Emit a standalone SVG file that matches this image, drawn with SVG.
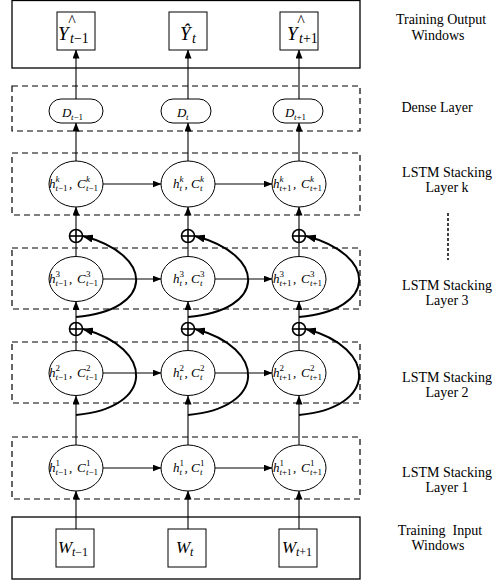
<svg xmlns="http://www.w3.org/2000/svg" width="493" height="583" viewBox="0 0 493 583">
<style>
  text { font-family: "Liberation Serif", "Times New Roman", serif; fill: #000; }
  .lbl { font-size: 14px; text-anchor: middle; white-space: pre; }
  .m { font-size: 13px; font-style: italic; }
  .s { font-size: 9px; font-style: normal; }
  .i { font-style: italic; }
  .Y { font-size: 19px; font-style: italic; }
  .Ys { font-size: 14px; }
  .hat { font-size: 16px; text-anchor: middle; }
  .W { font-size: 17px; font-style: italic; }
  .Ws { font-size: 12px; }
  .D { font-size: 13px; font-style: italic; }
  .Ds { font-size: 9px; }
  .solid { fill: none; stroke: #000; stroke-width: 1.3; }
  .dash { fill: none; stroke: #000; stroke-width: 1.2; stroke-dasharray: 6 4; }
  .node { fill: #fff; stroke: #000; stroke-width: 1; }
  .ln { fill: none; stroke: #000; stroke-width: 1.1; }
  .arr { fill: none; stroke: #000; stroke-width: 1.1; marker-end: url(#ah); }
  .curve { fill: none; stroke: #000; stroke-width: 2; marker-end: url(#ahb); }
  .op { fill: #fff; stroke: #000; stroke-width: 1.6; }
  .opx { stroke: #000; stroke-width: 1.6; }
</style>
<defs>
  <marker id="ah" markerUnits="userSpaceOnUse" markerWidth="9" markerHeight="7" refX="8.5" refY="3.5" orient="auto">
    <path d="M0,0 L9,3.5 L0,7 z" fill="#000"/>
  </marker>
  <marker id="ahb" markerUnits="userSpaceOnUse" markerWidth="11" markerHeight="8" refX="10" refY="4" orient="auto">
    <path d="M0,0 L11,4 L0,8 z" fill="#000"/>
  </marker>
</defs>

<!-- layer frames -->
<g id="frames">
  <rect class="solid" x="12" y="0.5" width="348" height="67.5"/>
  <rect class="dash" x="12" y="86" width="348" height="45"/>
  <rect class="dash" x="12" y="153" width="348" height="62"/>
  <rect class="dash" x="12" y="248" width="348" height="61"/>
  <rect class="dash" x="12" y="342" width="348" height="61"/>
  <rect class="dash" x="12" y="437" width="348" height="62"/>
  <rect class="solid" x="12" y="517" width="348" height="62"/>
  <line x1="448" y1="213" x2="448" y2="260" stroke="#000" stroke-width="1.5" stroke-dasharray="3 2"/>
</g>

<!-- connectors -->
<g id="connectors">
  <line class="arr" x1="76" y1="529" x2="76" y2="491"/>
  <line class="arr" x1="188" y1="529" x2="188" y2="491"/>
  <line class="arr" x1="299" y1="529" x2="299" y2="491"/>
  <line class="arr" x1="76" y1="445" x2="76" y2="396"/>
  <line class="arr" x1="188" y1="445" x2="188" y2="396"/>
  <line class="arr" x1="299" y1="445" x2="299" y2="396"/>
  <line class="ln" x1="76" y1="350" x2="76" y2="335"/>
  <line class="ln" x1="188" y1="350" x2="188" y2="335"/>
  <line class="ln" x1="299" y1="350" x2="299" y2="335"/>
  <line class="arr" x1="76" y1="322" x2="76" y2="301.5"/>
  <line class="arr" x1="188" y1="322" x2="188" y2="301.5"/>
  <line class="arr" x1="299" y1="322" x2="299" y2="301.5"/>
  <line class="ln" x1="76" y1="256.5" x2="76" y2="242"/>
  <line class="ln" x1="188" y1="256.5" x2="188" y2="242"/>
  <line class="ln" x1="299" y1="256.5" x2="299" y2="242"/>
  <line class="arr" x1="76" y1="229.5" x2="76" y2="207"/>
  <line class="arr" x1="188" y1="229.5" x2="188" y2="207"/>
  <line class="arr" x1="299" y1="229.5" x2="299" y2="207"/>
  <line class="arr" x1="76" y1="161" x2="76" y2="123"/>
  <line class="arr" x1="188" y1="161" x2="188" y2="123"/>
  <line class="arr" x1="299" y1="161" x2="299" y2="123"/>
  <line class="arr" x1="76" y1="99" x2="76" y2="50"/>
  <line class="arr" x1="188" y1="99" x2="188" y2="50"/>
  <line class="arr" x1="299" y1="99" x2="299" y2="50"/>
  <line class="arr" x1="103" y1="184" x2="161" y2="184"/>
  <line class="arr" x1="215" y1="184" x2="272" y2="184"/>
  <line class="arr" x1="103" y1="279" x2="161" y2="279"/>
  <line class="arr" x1="215" y1="279" x2="272" y2="279"/>
  <line class="arr" x1="103" y1="373" x2="161" y2="373"/>
  <line class="arr" x1="215" y1="373" x2="272" y2="373"/>
  <line class="arr" x1="103" y1="468" x2="161" y2="468"/>
  <line class="arr" x1="215" y1="468" x2="272" y2="468"/>
  <path class="curve" d="M76,415 C155,408 155,348 83,329"/>
  <path class="curve" d="M188,415 C267,408 267,348 195,329"/>
  <path class="curve" d="M299,415 C378,408 378,348 306,329"/>
  <path class="curve" d="M76,317 C155,310 155,255 83,236"/>
  <path class="curve" d="M188,317 C267,310 267,255 195,236"/>
  <path class="curve" d="M299,317 C378,310 378,255 306,236"/>
</g>

<!-- oplus nodes -->
<g id="add_k_1"><circle class="op" cx="76" cy="236" r="6.5"/><line class="opx" x1="69.5" y1="236" x2="82.5" y2="236"/><line class="opx" x1="76" y1="229.5" x2="76" y2="242.5"/></g>
<g id="add_k_2"><circle class="op" cx="188" cy="236" r="6.5"/><line class="opx" x1="181.5" y1="236" x2="194.5" y2="236"/><line class="opx" x1="188" y1="229.5" x2="188" y2="242.5"/></g>
<g id="add_k_3"><circle class="op" cx="299" cy="236" r="6.5"/><line class="opx" x1="292.5" y1="236" x2="305.5" y2="236"/><line class="opx" x1="299" y1="229.5" x2="299" y2="242.5"/></g>
<g id="add_3_1"><circle class="op" cx="76" cy="329" r="6.5"/><line class="opx" x1="69.5" y1="329" x2="82.5" y2="329"/><line class="opx" x1="76" y1="322.5" x2="76" y2="335.5"/></g>
<g id="add_3_2"><circle class="op" cx="188" cy="329" r="6.5"/><line class="opx" x1="181.5" y1="329" x2="194.5" y2="329"/><line class="opx" x1="188" y1="322.5" x2="188" y2="335.5"/></g>
<g id="add_3_3"><circle class="op" cx="299" cy="329" r="6.5"/><line class="opx" x1="292.5" y1="329" x2="305.5" y2="329"/><line class="opx" x1="299" y1="322.5" x2="299" y2="335.5"/></g>

<!-- output windows -->
<g id="Y_tm1">
  <rect class="node" x="57" y="12" width="38" height="38"/>
  <text class="Y" x="58" y="40">Y</text>
  <text class="hat" x="72" y="26">^</text>
  <text class="Ys" x="70" y="43"><tspan class="i">t</tspan>−1</text>
</g>
<g id="Y_t">
  <rect class="node" x="169" y="12" width="38" height="38"/>
  <text class="Y" x="180" y="40">Ŷ</text>
  <text class="Ys i" x="192" y="43">t</text>
</g>
<g id="Y_tp1">
  <rect class="node" x="280" y="12" width="38" height="38"/>
  <text class="Y" x="287" y="40">Y</text>
  <text class="hat" x="301" y="26">^</text>
  <text class="Ys" x="299" y="43"><tspan class="i">t</tspan>+1</text>
</g>

<!-- dense layer -->
<g id="D_tm1">
  <rect class="node" x="49" y="99" width="54" height="24" rx="12"/>
  <text class="D" x="62" y="117">D</text>
  <text class="Ds" x="71" y="120"><tspan class="i">t</tspan>−1</text>
</g>
<g id="D_t">
  <rect class="node" x="161" y="99" width="50" height="24" rx="12"/>
  <text class="D" x="177" y="117">D</text>
  <text class="Ds i" x="186" y="120">t</text>
</g>
<g id="D_tp1">
  <rect class="node" x="273" y="99" width="50" height="24" rx="12"/>
  <text class="D" x="285" y="117">D</text>
  <text class="Ds" x="294" y="120"><tspan class="i">t</tspan>+1</text>
</g>

<!-- LSTM layer k -->
<g id="Lk_tm1">
  <ellipse class="node" cx="76" cy="184" rx="27" ry="23"/>
  <text class="m"><tspan x="49" y="188">h</tspan><tspan class="s i" x="55.5" y="182">k</tspan><tspan class="s" x="55.5" y="191"><tspan class="i">t</tspan>−1</tspan><tspan x="69" y="188">,</tspan><tspan x="77" y="188">C</tspan><tspan class="s i" x="86" y="182">k</tspan><tspan class="s" x="86" y="191"><tspan class="i">t</tspan>−1</tspan></text>
</g>
<g id="Lk_t">
  <ellipse class="node" cx="188" cy="184" rx="27" ry="23"/>
  <text class="m"><tspan x="173" y="188">h</tspan><tspan class="s i" x="179.5" y="182">k</tspan><tspan class="s i" x="179.5" y="191">t</tspan><tspan x="184.5" y="188">,</tspan><tspan x="191" y="188">C</tspan><tspan class="s i" x="200" y="182">k</tspan><tspan class="s i" x="200" y="191">t</tspan></text>
</g>
<g id="Lk_tp1">
  <ellipse class="node" cx="299" cy="184" rx="27" ry="23"/>
  <text class="m"><tspan x="273" y="188">h</tspan><tspan class="s i" x="279.5" y="182">k</tspan><tspan class="s" x="279.5" y="191"><tspan class="i">t</tspan>+1</tspan><tspan x="293" y="188">,</tspan><tspan x="301" y="188">C</tspan><tspan class="s i" x="310" y="182">k</tspan><tspan class="s" x="310" y="191"><tspan class="i">t</tspan>+1</tspan></text>
</g>

<!-- LSTM layer 3 -->
<g id="L3_tm1">
  <ellipse class="node" cx="76" cy="279" rx="27" ry="22.5"/>
  <text class="m"><tspan x="49" y="283">h</tspan><tspan class="s" x="55.5" y="277">3</tspan><tspan class="s" x="55.5" y="286"><tspan class="i">t</tspan>−1</tspan><tspan x="69" y="283">,</tspan><tspan x="77" y="283">C</tspan><tspan class="s" x="86" y="277">3</tspan><tspan class="s" x="86" y="286"><tspan class="i">t</tspan>−1</tspan></text>
</g>
<g id="L3_t">
  <ellipse class="node" cx="188" cy="279" rx="27" ry="22.5"/>
  <text class="m"><tspan x="173" y="283">h</tspan><tspan class="s" x="179.5" y="277">3</tspan><tspan class="s i" x="179.5" y="286">t</tspan><tspan x="184.5" y="283">,</tspan><tspan x="191" y="283">C</tspan><tspan class="s" x="200" y="277">3</tspan><tspan class="s i" x="200" y="286">t</tspan></text>
</g>
<g id="L3_tp1">
  <ellipse class="node" cx="299" cy="279" rx="27" ry="22.5"/>
  <text class="m"><tspan x="273" y="283">h</tspan><tspan class="s" x="279.5" y="277">3</tspan><tspan class="s" x="279.5" y="286"><tspan class="i">t</tspan>+1</tspan><tspan x="293" y="283">,</tspan><tspan x="301" y="283">C</tspan><tspan class="s" x="310" y="277">3</tspan><tspan class="s" x="310" y="286"><tspan class="i">t</tspan>+1</tspan></text>
</g>

<!-- LSTM layer 2 -->
<g id="L2_tm1">
  <ellipse class="node" cx="76" cy="373" rx="27" ry="22.5"/>
  <text class="m"><tspan x="49" y="377">h</tspan><tspan class="s" x="55.5" y="371">2</tspan><tspan class="s" x="55.5" y="380"><tspan class="i">t</tspan>−1</tspan><tspan x="69" y="377">,</tspan><tspan x="77" y="377">C</tspan><tspan class="s" x="86" y="371">2</tspan><tspan class="s" x="86" y="380"><tspan class="i">t</tspan>−1</tspan></text>
</g>
<g id="L2_t">
  <ellipse class="node" cx="188" cy="373" rx="27" ry="22.5"/>
  <text class="m"><tspan x="173" y="377">h</tspan><tspan class="s" x="179.5" y="371">2</tspan><tspan class="s i" x="179.5" y="380">t</tspan><tspan x="184.5" y="377">,</tspan><tspan x="191" y="377">C</tspan><tspan class="s" x="200" y="371">2</tspan><tspan class="s i" x="200" y="380">t</tspan></text>
</g>
<g id="L2_tp1">
  <ellipse class="node" cx="299" cy="373" rx="27" ry="22.5"/>
  <text class="m"><tspan x="273" y="377">h</tspan><tspan class="s" x="279.5" y="371">2</tspan><tspan class="s" x="279.5" y="380"><tspan class="i">t</tspan>+1</tspan><tspan x="293" y="377">,</tspan><tspan x="301" y="377">C</tspan><tspan class="s" x="310" y="371">2</tspan><tspan class="s" x="310" y="380"><tspan class="i">t</tspan>+1</tspan></text>
</g>

<!-- LSTM layer 1 -->
<g id="L1_tm1">
  <ellipse class="node" cx="76" cy="468" rx="27" ry="23"/>
  <text class="m"><tspan x="49" y="472">h</tspan><tspan class="s" x="55.5" y="466">1</tspan><tspan class="s" x="55.5" y="475"><tspan class="i">t</tspan>−1</tspan><tspan x="69" y="472">,</tspan><tspan x="77" y="472">C</tspan><tspan class="s" x="86" y="466">1</tspan><tspan class="s" x="86" y="475"><tspan class="i">t</tspan>−1</tspan></text>
</g>
<g id="L1_t">
  <ellipse class="node" cx="188" cy="468" rx="27" ry="23"/>
  <text class="m"><tspan x="173" y="472">h</tspan><tspan class="s" x="179.5" y="466">1</tspan><tspan class="s i" x="179.5" y="475">t</tspan><tspan x="184.5" y="472">,</tspan><tspan x="191" y="472">C</tspan><tspan class="s" x="200" y="466">1</tspan><tspan class="s i" x="200" y="475">t</tspan></text>
</g>
<g id="L1_tp1">
  <ellipse class="node" cx="299" cy="468" rx="27" ry="23"/>
  <text class="m"><tspan x="273" y="472">h</tspan><tspan class="s" x="279.5" y="466">1</tspan><tspan class="s" x="279.5" y="475"><tspan class="i">t</tspan>+1</tspan><tspan x="293" y="472">,</tspan><tspan x="301" y="472">C</tspan><tspan class="s" x="310" y="466">1</tspan><tspan class="s" x="310" y="475"><tspan class="i">t</tspan>+1</tspan></text>
</g>

<!-- input windows -->
<g id="W_tm1">
  <rect class="node" x="56" y="529" width="38" height="38"/>
  <text class="W" x="58" y="553">W</text>
  <text class="Ws" x="72" y="556"><tspan class="i">t</tspan>−1</text>
</g>
<g id="W_t">
  <rect class="node" x="168" y="529" width="38" height="38"/>
  <text class="W" x="176" y="553">W</text>
  <text class="Ws i" x="190" y="556">t</text>
</g>
<g id="W_tp1">
  <rect class="node" x="279" y="529" width="38" height="38"/>
  <text class="W" x="282" y="553">W</text>
  <text class="Ws" x="296" y="556"><tspan class="i">t</tspan>+1</text>
</g>

<!-- side labels -->
<g id="labels">
  <text class="lbl" x="441" y="24">Training Output</text>
  <text class="lbl" x="438" y="40">Windows</text>
  <text class="lbl" x="437" y="112">Dense Layer</text>
  <text class="lbl" x="447" y="177">LSTM Stacking</text>
  <text class="lbl" x="447" y="192">Layer k</text>
  <text class="lbl" x="447" y="290">LSTM Stacking</text>
  <text class="lbl" x="447" y="305">Layer 3</text>
  <text class="lbl" x="447" y="382">LSTM Stacking</text>
  <text class="lbl" x="447" y="397">Layer 2</text>
  <text class="lbl" x="447" y="477">LSTM Stacking</text>
  <text class="lbl" x="447" y="492">Layer 1</text>
  <text class="lbl" x="440" y="535">Training  Input</text>
  <text class="lbl" x="438" y="550">Windows</text>
</g>
</svg>
